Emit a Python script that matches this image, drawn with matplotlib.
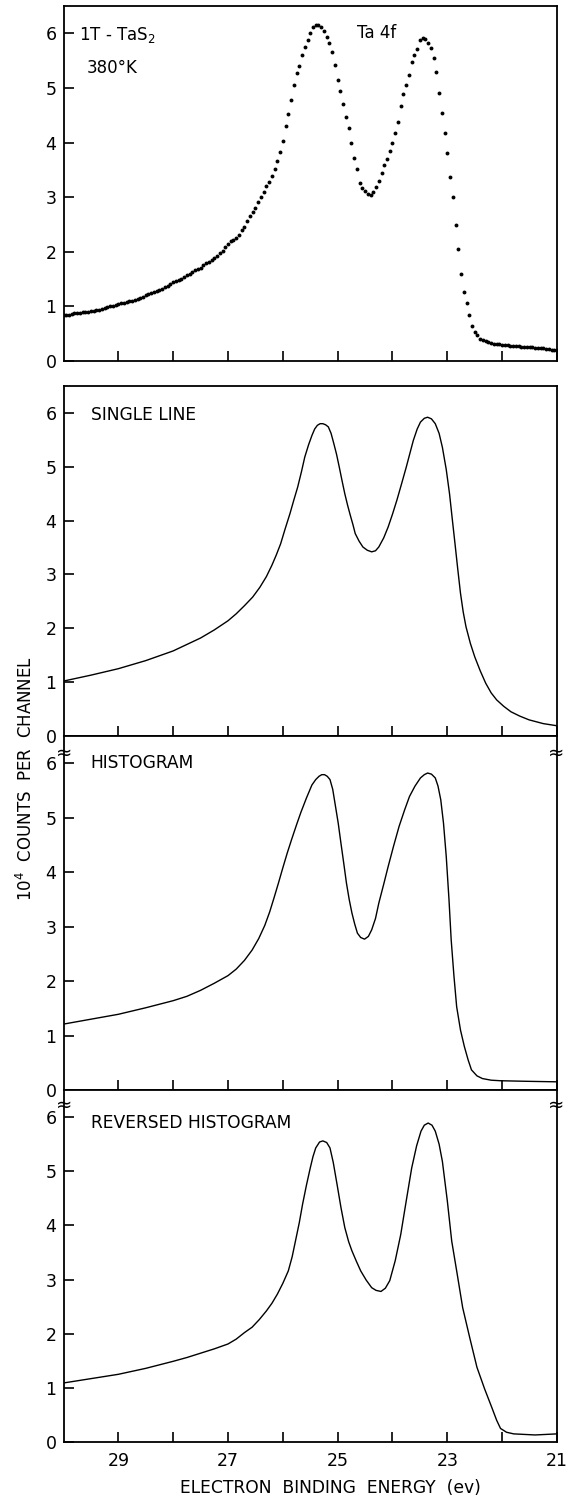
import numpy as np
import matplotlib
matplotlib.use("Agg")
from matplotlib import pyplot as plt

plt.rcParams['font.family'] = ['DejaVu Sans']

# measured Ta 4f spectrum, one value per 0.05 eV channel (30.00 -> 21.00 eV), in 10^4 counts
counts_measured = [
    0.84, 0.85, 0.85, 0.86, 0.87, 0.87, 0.88, 0.89, 0.90, 0.90,
    0.91, 0.92, 0.93, 0.94, 0.95, 0.97, 0.98, 1.00, 1.01, 1.03,
    1.05, 1.06, 1.07, 1.08, 1.09, 1.10, 1.12, 1.13, 1.15, 1.17,
    1.20, 1.22, 1.24, 1.26, 1.28, 1.30, 1.32, 1.35, 1.38, 1.41,
    1.44, 1.46, 1.49, 1.51, 1.54, 1.57, 1.60, 1.63, 1.66, 1.68,
    1.71, 1.75, 1.79, 1.82, 1.85, 1.88, 1.92, 1.97, 2.02, 2.08,
    2.15, 2.20, 2.22, 2.25, 2.31, 2.39, 2.46, 2.56, 2.65, 2.72,
    2.80, 2.92, 3.00, 3.10, 3.20, 3.27, 3.38, 3.52, 3.67, 3.82,
    4.02, 4.30, 4.52, 4.78, 5.05, 5.28, 5.40, 5.60, 5.75, 5.88,
    6.00, 6.11, 6.15, 6.15, 6.12, 6.04, 5.93, 5.82, 5.66, 5.42,
    5.15, 4.94, 4.70, 4.46, 4.26, 4.00, 3.72, 3.51, 3.26, 3.17,
    3.11, 3.05, 3.04, 3.10, 3.18, 3.30, 3.45, 3.58, 3.70, 3.84,
    4.00, 4.18, 4.38, 4.67, 4.88, 5.05, 5.24, 5.47, 5.60, 5.72,
    5.87, 5.91, 5.90, 5.83, 5.74, 5.55, 5.29, 4.90, 4.55, 4.18,
    3.80, 3.37, 3.00, 2.49, 2.05, 1.60, 1.26, 1.06, 0.85, 0.64,
    0.54, 0.47, 0.41, 0.38, 0.36, 0.35, 0.33, 0.32, 0.31, 0.31,
    0.30, 0.29, 0.29, 0.28, 0.28, 0.27, 0.27, 0.26, 0.26, 0.26,
    0.25, 0.25, 0.24, 0.24, 0.23, 0.23, 0.22, 0.22, 0.21, 0.21,
    0.20,
]
energy_measured = np.round(np.arange(30.0, 20.999, -0.05), 2)

# fitted spectra: (energy eV, 10^4 counts)
single_line_e = [30.0, 29.5, 29.0, 28.5, 28.0, 27.75, 27.5, 27.25, 27.0, 26.85, 26.7,
                 26.55, 26.42, 26.3, 26.2, 26.12, 26.04, 25.96, 25.87, 25.80, 25.73, 25.66,
                 25.60, 25.53, 25.47, 25.42, 25.37, 25.32, 25.27, 25.22, 25.17, 25.12, 25.07,
                 25.02, 24.97, 24.92, 24.87, 24.82, 24.77, 24.72, 24.68, 24.61, 24.54, 24.46,
                 24.38, 24.31, 24.25, 24.16, 24.08, 24.00, 23.92, 23.83, 23.75, 23.68, 23.62,
                 23.55, 23.49, 23.42, 23.36, 23.29, 23.22, 23.15, 23.09, 23.02, 22.96, 22.91,
                 22.86, 22.81, 22.76, 22.71, 22.66, 22.58, 22.50, 22.40, 22.30, 22.20, 22.10,
                 21.97, 21.84, 21.68, 21.51, 21.25, 21.0]
single_line_c = [1.02, 1.13, 1.25, 1.40, 1.58, 1.70, 1.82, 1.97, 2.14, 2.27, 2.42,
                 2.58, 2.76, 2.96, 3.17, 3.36, 3.57, 3.84, 4.13, 4.38, 4.62, 4.91,
                 5.18, 5.41, 5.58, 5.70, 5.77, 5.80, 5.80, 5.78, 5.74, 5.62, 5.43,
                 5.23, 4.99, 4.74, 4.50, 4.29, 4.10, 3.92, 3.76, 3.62, 3.51, 3.45,
                 3.42, 3.44, 3.51, 3.68, 3.88, 4.12, 4.38, 4.70, 4.99, 5.26, 5.49,
                 5.70, 5.83, 5.90, 5.92, 5.89, 5.80, 5.62, 5.36, 4.95, 4.50, 4.03,
                 3.57, 3.10, 2.65, 2.30, 2.03, 1.72, 1.47, 1.21, 0.98, 0.80, 0.67,
                 0.55, 0.45, 0.37, 0.30, 0.23, 0.19]

histogram_e = [30.0, 29.5, 29.0, 28.5, 28.0, 27.75, 27.5, 27.25, 27.0, 26.85, 26.7,
               26.56, 26.44, 26.33, 26.24, 26.16, 26.08, 26.00, 25.92, 25.84, 25.75, 25.67,
               25.57, 25.47, 25.40, 25.34, 25.29, 25.24, 25.19, 25.14, 25.09, 25.04, 24.99,
               24.94, 24.89, 24.84, 24.79, 24.74, 24.69, 24.64, 24.58, 24.51, 24.44, 24.38,
               24.31, 24.25, 24.16, 24.08, 23.98, 23.88, 23.78, 23.69, 23.59, 23.49, 23.42,
               23.36, 23.29, 23.22, 23.17, 23.12, 23.07, 23.02, 22.97, 22.93, 22.88, 22.83,
               22.76, 22.69, 22.62, 22.56, 22.46, 22.36, 22.20, 22.03, 21.57, 21.0]
histogram_c = [1.21, 1.30, 1.39, 1.51, 1.64, 1.72, 1.83, 1.96, 2.10, 2.22, 2.38,
               2.57, 2.78, 3.02, 3.27, 3.53, 3.80, 4.08, 4.35, 4.60, 4.87, 5.10,
               5.36, 5.60, 5.70, 5.76, 5.79, 5.79, 5.76, 5.70, 5.52, 5.21, 4.90,
               4.53, 4.17, 3.80, 3.50, 3.25, 3.05, 2.88, 2.80, 2.77, 2.82, 2.94,
               3.15, 3.43, 3.78, 4.10, 4.48, 4.84, 5.14, 5.39, 5.58, 5.73, 5.79,
               5.82, 5.80, 5.73, 5.58, 5.33, 4.90, 4.29, 3.50, 2.76, 2.10, 1.53,
               1.10, 0.80, 0.55, 0.37, 0.26, 0.21, 0.18, 0.17, 0.16, 0.15]

reversed_e = [30.0, 29.5, 29.0, 28.5, 28.0, 27.75, 27.5, 27.25, 27.0, 26.85, 26.7,
              26.56, 26.43, 26.30, 26.20, 26.10, 26.00, 25.90, 25.83, 25.77, 25.70, 25.64,
              25.57, 25.50, 25.45, 25.40, 25.33, 25.27, 25.20, 25.14, 25.08, 25.01, 24.94,
              24.87, 24.80, 24.74, 24.66, 24.58, 24.48, 24.38, 24.30, 24.21, 24.13, 24.05,
              23.95, 23.85, 23.75, 23.65, 23.56, 23.48, 23.42, 23.35, 23.28, 23.22, 23.15,
              23.09, 23.00, 22.92, 22.82, 22.72, 22.59, 22.46, 22.32, 22.19, 22.10, 22.03,
              21.92, 21.79, 21.40, 21.0]
reversed_c = [1.09, 1.17, 1.25, 1.36, 1.49, 1.56, 1.64, 1.72, 1.81, 1.90, 2.02,
              2.12, 2.26, 2.42, 2.56, 2.73, 2.93, 3.16, 3.42, 3.71, 4.05, 4.39,
              4.74, 5.06, 5.27, 5.43, 5.54, 5.56, 5.53, 5.43, 5.16, 4.75, 4.33,
              3.96, 3.70, 3.53, 3.34, 3.16, 2.99, 2.85, 2.80, 2.78, 2.84, 2.98,
              3.35, 3.83, 4.45, 5.06, 5.47, 5.74, 5.85, 5.89, 5.85, 5.74, 5.50,
              5.18, 4.45, 3.71, 3.10, 2.48, 1.92, 1.38, 0.98, 0.64, 0.40, 0.25,
              0.18, 0.15, 0.13, 0.15]

panel_titles = ['SINGLE LINE', 'HISTOGRAM', 'REVERSED HISTOGRAM']
x_ticks = [29, 28, 27, 26, 25, 24, 23, 22, 21]
x_ticklabels = ['29', '', '27', '', '25', '', '23', '', '21']
y_ticks = [0, 1, 2, 3, 4, 5, 6]

W, H = 568, 1497
LEFT, RIGHT = 63.5, 557.0
fig = plt.figure(figsize=(W / 100, H / 100), dpi=100)


def px_axes(top, bottom, left=LEFT, right=RIGHT):
    return fig.add_axes([left / W, (H - bottom) / H, (right - left) / W, (bottom - top) / H])


def style_axes(ax, show_xlabels=False):
    ax.set_xlim(30, 21)
    ax.set_ylim(0, 6.5)
    for sp in ax.spines.values():
        sp.set_linewidth(1.3)
    ax.set_yticks(y_ticks)
    ax.set_yticklabels([str(t) for t in y_ticks])
    ax.set_xticks(x_ticks)
    if show_xlabels:
        ax.set_xticklabels(x_ticklabels)
    else:
        ax.set_xticklabels([])
    ax.tick_params(axis='both', direction='in', length=7.5, width=1.2, labelsize=12.5)
    ax.tick_params(axis='y', pad=5)
    ax.tick_params(axis='x', pad=7)
    ax.tick_params(axis='x', which='both', top=False)
    ax.tick_params(axis='y', which='both', right=False)


# measured spectrum
ax1 = px_axes(6, 361)
style_axes(ax1)
ax1.plot(energy_measured, counts_measured, 'o', color='black', ms=2.8, mec='none')
ax1.text(0.031, 0.918, '1T - TaS$_2$', transform=ax1.transAxes, fontsize=12, va='center')
ax1.text(0.047, 0.825, '380\u00b0K', transform=ax1.transAxes, fontsize=12, va='center')
ax1.text(0.595, 0.924, 'Ta 4f', transform=ax1.transAxes, fontsize=12, va='center')

# fitted spectra
fits = [(single_line_e, single_line_c), (histogram_e, histogram_c), (reversed_e, reversed_c)]
bounds = [(386, 736), (736, 1090), (1090, 1442)]
title_pos = [0.917, 0.924, 0.906]
for k, ((e, c), (top, bottom)) in enumerate(zip(fits, bounds)):
    ax = px_axes(top, bottom)
    style_axes(ax, show_xlabels=(k == 2))
    ax.plot(e, c, color='black', lw=1.0)
    ax.text(0.055, title_pos[k], panel_titles[k], transform=ax.transAxes,
            fontsize=12.3, va='center')

# axis break marks between the fitted panels
for yb in [753, 1105]:
    for xb in [LEFT + 1, RIGHT - 1]:
        fig.text(xb / W, (H - yb) / H, '\u2248', fontsize=14, ha='center', va='center')

fig.text(26 / W, (H - 779) / H, '10$^4$  COUNTS  PER  CHANNEL', rotation=90,
         fontsize=12, ha='center', va='center')
fig.text(330 / W, (H - 1488) / H, 'ELECTRON  BINDING  ENERGY  (ev)',
         fontsize=12.3, ha='center', va='center')

fig.savefig('out.png', dpi=100)
